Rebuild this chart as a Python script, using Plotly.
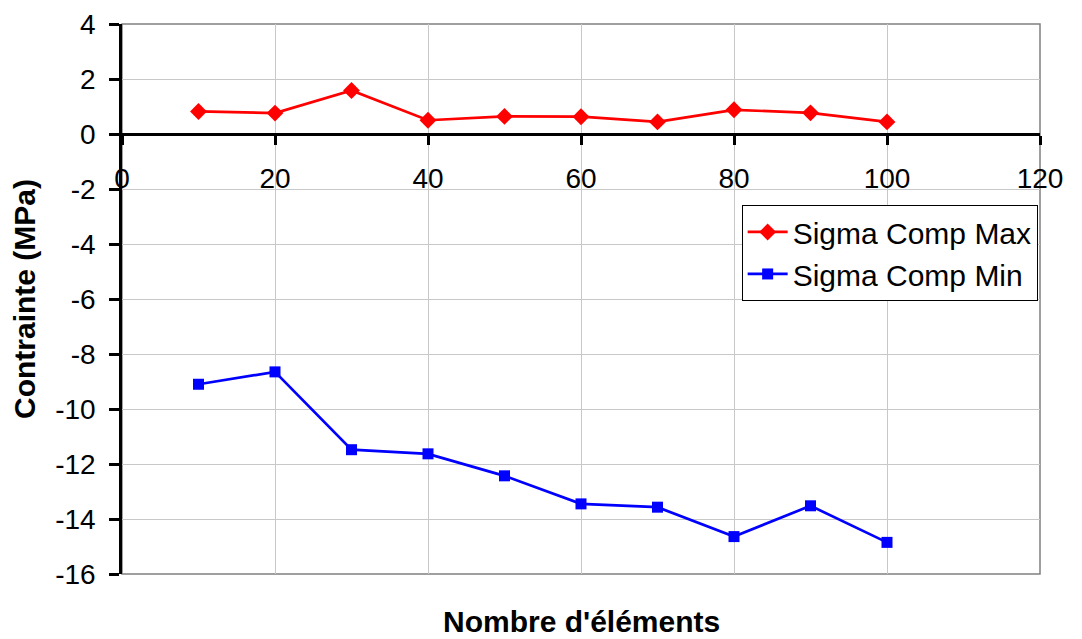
import plotly.graph_objects as go

x_elements = [10, 20, 30, 40, 50, 60, 70, 80, 90, 100]
sigma_max = [0.82, 0.76, 1.58, 0.50, 0.64, 0.63, 0.44, 0.88, 0.77, 0.44]
sigma_min = [-9.10, -8.65, -11.48, -11.63, -12.43, -13.45, -13.57, -14.64, -13.52, -14.85]

x_tickvals = [0, 20, 40, 60, 80, 100, 120]
x_ticktext = ["0", "20", "40", "60", "80", "100", "120"]
y_tickvals = [4, 2, 0, -2, -4, -6, -8, -10, -12, -14, -16]
y_ticktext = ["4", "2", "0", "-2", "-4", "-6", "-8", "-10", "-12", "-14", "-16"]

FONT = "Arial, Liberation Sans, sans-serif"

fig = go.Figure()
fig.add_trace(go.Scatter(
    x=x_elements, y=sigma_max, mode="lines+markers", name="Sigma Comp Max",
    line=dict(color="#ff0000", width=2.7),
    marker=dict(symbol="diamond", size=13, color="#ff0000"),
))
fig.add_trace(go.Scatter(
    x=x_elements, y=sigma_min, mode="lines+markers", name="Sigma Comp Min",
    line=dict(color="#0000ff", width=2.7),
    marker=dict(symbol="square", size=11, color="#0000ff"),
))

fig.update_layout(
    width=1082, height=639,
    margin=dict(l=114, r=50, t=16, b=73),
    paper_bgcolor="white", plot_bgcolor="white",
    font=dict(family=FONT, size=28, color="black"),
    showlegend=True,
    legend=dict(
        x=0.675, y=0.671, xanchor="left", yanchor="top",
        bordercolor="black", borderwidth=1, bgcolor="white",
        font=dict(size=30), tracegroupgap=0, itemwidth=40,
    ),
    shapes=[dict(type="rect", xref="paper", yref="paper", x0=0, x1=1, y0=0, y1=1,
                 line=dict(color="#808080", width=1.5), layer="below")],
    annotations=[dict(text="<b>Nombre d'éléments</b>", xref="paper", yref="paper",
                      x=0.5, y=-0.118, xanchor="center", yanchor="bottom",
                      borderpad=0, showarrow=False, font=dict(size=30))],
)

fig.update_xaxes(
    range=[0, 120], tickmode="array", tickvals=x_tickvals, ticktext=x_ticktext,
    anchor="free", position=0.8,
    showgrid=True, gridcolor="#c8c8c8", gridwidth=1,
    showline=True, linecolor="black", linewidth=2.5,
    ticks="outside", ticklen=9, tickwidth=2.5, tickcolor="black",
    ticklabelstandoff=10, tickfont=dict(size=28), ticklabeloverflow="allow",
    zeroline=False, automargin=False,
)
fig.update_yaxes(
    range=[-16, 4], tickmode="array", tickvals=y_tickvals, ticktext=y_ticktext,
    showgrid=True, gridcolor="#c8c8c8", gridwidth=1,
    showline=True, linecolor="black", linewidth=2.5,
    ticks="outside", ticklen=10, tickwidth=2.5, tickcolor="black",
    ticklabelstandoff=8, tickfont=dict(size=28), zeroline=False,
    ticklabeloverflow="allow", automargin=False,
    title=dict(text="<b>Contrainte (MPa)</b>", font=dict(size=30), standoff=12),
)

fig.write_html("out.html")
